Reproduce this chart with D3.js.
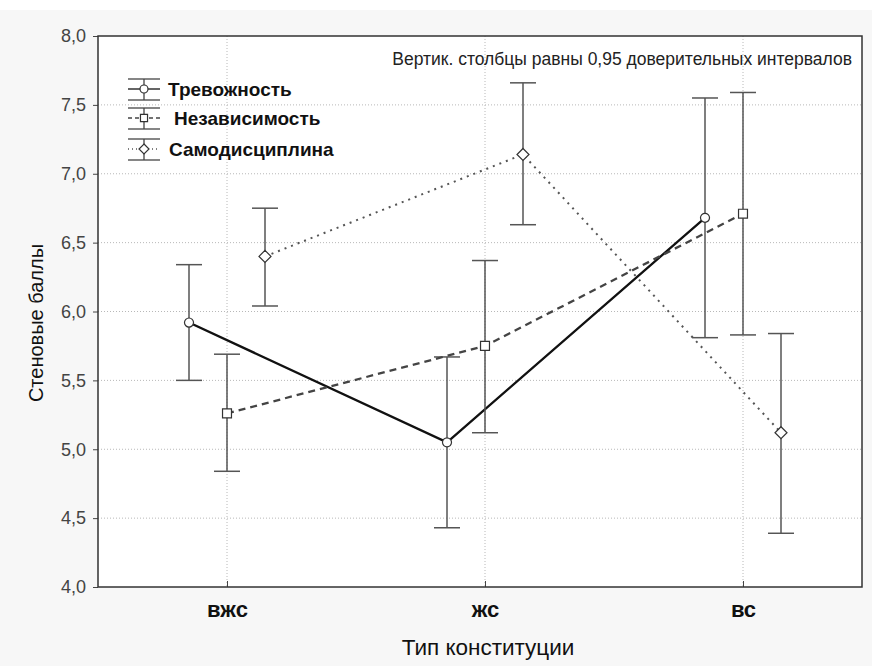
<!DOCTYPE html>
<html lang="ru">
<head>
<meta charset="UTF-8">
<script src="https://cdn.jsdelivr.net/npm/d3@7"></script>
<style>
  body { margin: 0; background: #f7f7f7; }
  text { font-family: "Liberation Sans", Arial, sans-serif; }
</style>
</head>
<body>
<svg></svg>
<script>
// categories (тип конституции) and series
var categories = ["вжс", "жс", "вс"];
var seriesNames = ["Тревожность", "Независимость", "Самодисциплина"];

// means and 0.95 confidence limits, per series, per category
var anxietyMean = [5.92, 5.05, 6.68];
var anxietyLow  = [5.50, 4.43, 5.81];
var anxietyHigh = [6.34, 5.67, 7.55];

var independMean = [5.26, 5.75, 6.71];
var independLow  = [4.84, 5.12, 5.83];
var independHigh = [5.69, 6.37, 7.59];

var disciplMean = [6.40, 7.14, 5.12];
var disciplLow  = [6.04, 6.63, 4.39];
var disciplHigh = [6.75, 7.66, 5.84];

var yTicks = [4.0, 4.5, 5.0, 5.5, 6.0, 6.5, 7.0, 7.5, 8.0];

var W = 872, H = 666;
var margin = {top: 36, right: 10, bottom: 79, left: 98};
var width = W - margin.left - margin.right,
    height = H - margin.top - margin.bottom;

var svg = d3.select("svg").attr("width", W).attr("height", H);

svg.append("rect").attr("width", W).attr("height", H).attr("fill", "#f7f7f7");
svg.append("rect").attr("width", W).attr("height", 10).attr("fill", "#ffffff");

var inner = svg.append("g")
  .attr("transform", "translate(" + margin.left + "," + margin.top + ")");

inner.append("rect").attr("width", width).attr("height", height).attr("fill", "#ffffff");

var x = d3.scalePoint().domain(categories).range([0, width + 10]).padding(0.5);
var xOff = d3.scalePoint().domain(seriesNames).range([-38, 38]);
var y = d3.scaleLinear().domain([4, 8]).range([height, 0]);

var comma = function(v) { return d3.format(".1f")(v).replace(".", ","); };

// grid
inner.append("g").selectAll("line").data(yTicks.slice(1, -1)).enter().append("line")
  .attr("x1", 0).attr("x2", width)
  .attr("y1", function(d) { return y(d); }).attr("y2", function(d) { return y(d); })
  .attr("stroke", "#b8b8b8").attr("stroke-dasharray", "1,2");
inner.append("g").selectAll("line").data(categories).enter().append("line")
  .attr("y1", 0).attr("y2", height)
  .attr("x1", function(d) { return x(d); }).attr("x2", function(d) { return x(d); })
  .attr("stroke", "#b8b8b8").attr("stroke-dasharray", "1,2");

// axes
var yAxis = d3.axisLeft(y).tickValues(yTicks).tickFormat(comma).tickSize(5).tickPadding(7);
var gy = inner.append("g").call(yAxis);
gy.select(".domain").remove();
gy.selectAll("line").attr("stroke", "#444");
gy.selectAll("text").attr("font-size", 18).attr("fill", "#444")
  .attr("font-family", "'Liberation Sans', Arial, sans-serif");

var xAxis = d3.axisBottom(x).tickSize(-6).tickPadding(19);
var gx = inner.append("g").attr("transform", "translate(0," + height + ")").call(xAxis);
gx.select(".domain").remove();
gx.selectAll("line").attr("stroke", "#444");
gx.selectAll("text").attr("font-size", 22).attr("font-weight", "bold").attr("fill", "#111")
  .attr("dy", "0.5em")
  .attr("font-family", "'Liberation Sans', Arial, sans-serif");

inner.append("rect").attr("width", width).attr("height", height)
  .attr("fill", "none").attr("stroke", "#333").attr("stroke-width", 1.5);

// series table
var styles = {
  "Тревожность":    {dash: null,  color: "#111", width: 2.3, marker: "circle"},
  "Независимость":  {dash: "7,5", color: "#444", width: 2.3, marker: "square"},
  "Самодисциплина": {dash: "2,5", color: "#555", width: 2,   marker: "diamond"}
};
var series = [
  {name: "Тревожность", mean: anxietyMean, lo: anxietyLow, hi: anxietyHigh},
  {name: "Независимость", mean: independMean, lo: independLow, hi: independHigh},
  {name: "Самодисциплина", mean: disciplMean, lo: disciplLow, hi: disciplHigh}
];

function markerPath(type) {
  if (type === "circle") return d3.symbol(d3.symbolCircle, 64)();
  if (type === "square") return d3.symbol(d3.symbolSquare, 80)();
  return "M0,-6L6,0L0,6L-6,0Z";
}

var cap = 13;
series.forEach(function(s) {
  var st = styles[s.name];
  var pts = categories.map(function(c, i) {
    return {x: x(c) + xOff(s.name), m: s.mean[i], lo: s.lo[i], hi: s.hi[i]};
  });
  var g = inner.append("g");
  // error bars
  pts.forEach(function(p) {
    g.append("line").attr("x1", p.x).attr("x2", p.x).attr("y1", y(p.lo)).attr("y2", y(p.hi))
      .attr("stroke", "#555").attr("stroke-width", 1.5);
    [p.lo, p.hi].forEach(function(v) {
      g.append("line").attr("x1", p.x - cap).attr("x2", p.x + cap).attr("y1", y(v)).attr("y2", y(v))
        .attr("stroke", "#555").attr("stroke-width", 1.5);
    });
  });
  g.append("path").datum(pts)
    .attr("d", d3.line().x(function(p) { return p.x; }).y(function(p) { return y(p.m); }))
    .attr("fill", "none").attr("stroke", st.color).attr("stroke-width", st.width)
    .attr("stroke-dasharray", st.dash);
  g.selectAll(".mk").data(pts).enter().append("path")
    .attr("transform", function(p) { return "translate(" + p.x + "," + y(p.m) + ")"; })
    .attr("d", markerPath(st.marker))
    .attr("fill", "#fff").attr("stroke", "#333").attr("stroke-width", 1.2);
});

// legend
var legendY = [53, 82, 113];
var legendTextX = [24, 30, 25];
var leg = inner.append("g");
series.forEach(function(s, i) {
  var st = styles[s.name];
  var g = leg.append("g").attr("transform", "translate(46," + legendY[i] + ")");
  g.append("line").attr("x1", -16).attr("x2", 16).attr("y1", -10).attr("y2", -10).attr("stroke", "#444").attr("stroke-width", 1.3);
  g.append("line").attr("x1", -16).attr("x2", 16).attr("y1", 11).attr("y2", 11).attr("stroke", "#444").attr("stroke-width", 1.3);
  g.append("line").attr("x1", 0).attr("x2", 0).attr("y1", -10).attr("y2", 11).attr("stroke", "#444").attr("stroke-width", 1.3);
  g.append("line").attr("x1", -16).attr("x2", 16).attr("y1", 0).attr("y2", 0)
    .attr("stroke", st.color).attr("stroke-width", 1.3)
    .attr("stroke-dasharray", st.dash ? (i === 1 ? "4,3" : "1,3") : null);
  g.append("path").attr("d", st.marker === "diamond" ? "M0,-5L5,0L0,5L-5,0Z" : d3.symbol(st.marker === "circle" ? d3.symbolCircle : d3.symbolSquare, 50)())
    .attr("fill", "#fff").attr("stroke", "#333").attr("stroke-width", 1.2);
  g.append("text").attr("x", legendTextX[i]).attr("y", 0).attr("dy", "0.36em")
    .attr("font-size", 19).attr("font-weight", "bold").attr("fill", "#111")
    .text(s.name);
});

// note
inner.append("text").attr("x", width - 10).attr("y", 29)
  .attr("text-anchor", "end").attr("font-size", 17.5).attr("fill", "#222")
  .text("Вертик. столбцы равны 0,95 доверительных интервалов");

// axis titles
svg.append("text").attr("transform", "rotate(-90)")
  .attr("x", -323).attr("y", 43)
  .attr("text-anchor", "middle").attr("font-size", 20).attr("fill", "#111")
  .text("Стеновые баллы");

svg.append("text").attr("x", 488).attr("y", 655)
  .attr("text-anchor", "middle").attr("font-size", 22.5).attr("fill", "#111")
  .text("Тип конституции");
</script>
</body>
</html>
